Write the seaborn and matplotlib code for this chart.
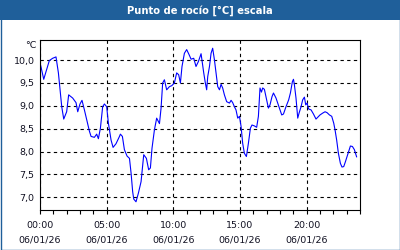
import matplotlib
matplotlib.use("Agg")
import matplotlib.pyplot as plt
import seaborn as sns
import pandas as pd
from matplotlib.patches import Rectangle

# Data (hours since 00:00 on 06/01/26, dew point in °C)
hours = [0.00, 0.28, 0.70, 0.95, 1.20, 1.38, 1.53, 1.63, 1.78, 2.00, 2.15, 2.45, 2.70, 2.83, 3.00,
         3.15, 3.33, 3.53, 3.71, 3.83, 4.08, 4.25, 4.38, 4.53, 4.70, 4.83, 5.00, 5.13, 5.33, 5.48,
         5.70, 5.96, 6.03, 6.18, 6.33, 6.53, 6.71, 6.83, 6.95, 7.03, 7.20, 7.38, 7.58, 7.78, 7.98,
         8.15, 8.28, 8.40, 8.58, 8.75, 8.96, 9.08, 9.20, 9.33, 9.50, 9.71, 9.88, 10.08, 10.25, 10.40,
         10.53, 10.65, 10.83, 11.00, 11.18, 11.33, 11.53, 11.70, 11.88, 12.08, 12.28, 12.40, 12.50,
         12.58, 12.71, 12.83, 12.95, 13.08, 13.20, 13.33, 13.46, 13.58, 13.70, 13.83, 14.00, 14.21,
         14.33, 14.45, 14.58, 14.70, 14.83, 14.96, 15.08, 15.20, 15.33, 15.48, 15.63, 15.78, 15.90,
         16.08, 16.25, 16.38, 16.50, 16.61, 16.70, 16.83, 17.00, 17.13, 17.25, 17.40, 17.51, 17.70,
         17.96, 18.13, 18.26, 18.45, 18.65, 18.78, 18.93, 19.01, 19.08, 19.20, 19.33, 19.43, 19.58,
         19.70, 19.83, 19.93, 20.03, 20.15, 20.33, 20.51, 20.70, 20.83, 21.00, 21.20, 21.38, 21.53,
         21.71, 21.88, 22.03, 22.13, 22.25, 22.38, 22.53, 22.65, 22.78, 22.91, 23.03, 23.15, 23.28,
         23.43, 23.58, 23.75]
dew_point = [9.95, 9.58, 9.99, 10.04, 10.07, 9.72, 9.28, 8.98, 8.71, 8.87, 9.24, 9.17, 9.07, 8.87, 9.04,
             9.12, 8.91, 8.66, 8.44, 8.33, 8.31, 8.38, 8.28, 8.51, 8.98, 9.04, 8.98, 8.62, 8.25, 8.09,
             8.17, 8.33, 8.38, 8.33, 8.04, 7.90, 7.85, 7.53, 7.12, 6.96, 6.90, 7.09, 7.34, 7.93, 7.85,
             7.60, 7.64, 8.07, 8.47, 8.73, 8.61, 8.95, 9.50, 9.57, 9.35, 9.42, 9.44, 9.50, 9.72, 9.68,
             9.50, 9.86, 10.15, 10.23, 10.12, 10.02, 10.04, 9.86, 9.97, 10.14, 9.72, 9.50, 9.35,
             9.64, 9.86, 10.15, 10.26, 10.01, 9.72, 9.42, 9.35, 9.47, 9.39, 9.24, 9.09, 9.06,
             9.12, 9.07, 8.98, 8.91, 8.73, 8.77, 8.55, 8.18, 7.96, 7.89, 8.18, 8.51, 8.58,
             8.56, 8.53, 8.77, 9.39, 9.30, 9.39, 9.36, 9.13, 8.95, 9.02, 9.20, 9.28, 9.17,
             8.95, 8.80, 8.82, 8.98, 9.13, 9.28, 9.53, 9.58, 9.46, 9.17, 8.73, 8.84, 8.98,
             9.13, 9.19, 9.02, 9.06, 8.93, 8.91, 8.82, 8.71, 8.75, 8.80, 8.84, 8.87, 8.85,
             8.80, 8.77, 8.62, 8.47, 8.25, 7.96, 7.74, 7.66, 7.67, 7.78, 7.89, 8.00, 8.12,
             8.11, 8.04, 7.88]

x_tick_hours = [0, 5, 10, 15, 20]
x_tick_labels = ["00:00\n06/01/26", "05:00\n06/01/26", "10:00\n06/01/26", "15:00\n06/01/26", "20:00\n06/01/26"]
y_ticks = [7.0, 7.5, 8.0, 8.5, 9.0, 9.5, 10.0]
y_tick_labels = ["7,0", "7,5", "8,0", "8,5", "9,0", "9,5", "10,0"]
title = "Punto de rocío [°C] escala"
unit = "°C"

sns.set_theme(style="white")
plt.rcParams["font.family"] = ["DejaVu Sans"]

BLUE_BAR = "#1f5f9a"
TXT = "#111122"

fig = plt.figure(figsize=(4, 2.5), dpi=100)
fig.patch.set_facecolor("white")

# Title bar and outer border
fig.patches.append(Rectangle((0, 1 - 20 / 250), 1, 20 / 250, transform=fig.transFigure,
                             facecolor=BLUE_BAR, edgecolor="none", zorder=0))
fig.patches.append(Rectangle((0.5 / 400, 0.5 / 250), 399 / 400, 249 / 250, transform=fig.transFigure,
                             facecolor="none", edgecolor=BLUE_BAR, linewidth=1.0, zorder=5))
fig.text(0.5, 1 - 10.5 / 250, title, color="white", fontsize=7.2, fontweight="bold",
         ha="center", va="center")

ax = fig.add_axes([40 / 400, 40 / 250, 320 / 400, 170 / 250])
df = pd.DataFrame({"hour": hours, "dew": dew_point})
sns.lineplot(data=df, x="hour", y="dew", ax=ax, color="#0000ff", linewidth=0.8)

ax.set_xlim(0, 24)
ax.set_ylim(6.72, 10.44)
ax.set_xlabel("")
ax.set_ylabel("")

ax.set_xticks(x_tick_hours)
ax.set_xticklabels(x_tick_labels, fontsize=6.8, color=TXT, linespacing=1.75)
ax.set_xticks(list(range(0, 25)), minor=True)
ax.set_yticks(y_ticks)
ax.set_yticklabels(y_tick_labels, fontsize=6.8, color=TXT)

ax.tick_params(axis="x", which="both", direction="out", length=3, width=0.8, color="black",
               bottom=True, pad=5)
ax.tick_params(axis="y", which="both", length=0, pad=4)

ax.grid(True, which="major", color="black", linestyle=(0, (3, 3)), linewidth=0.8)
for s in ax.spines.values():
    s.set_color("black")
    s.set_linewidth(0.8)
    s.set_visible(True)

fig.text(37 / 400, 1 - 46 / 250, unit, fontsize=6.8, color=TXT, ha="right", va="center")

fig.savefig("out.png", dpi=100, facecolor="white")
